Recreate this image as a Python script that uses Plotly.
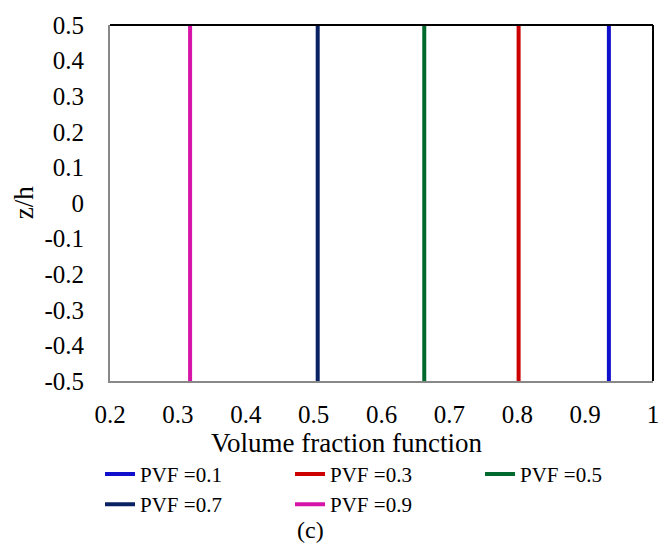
import plotly.graph_objects as go

names = ["PVF =0.1", "PVF =0.3", "PVF =0.5", "PVF =0.7", "PVF =0.9"]
x_values = [0.935, 0.802, 0.663, 0.506, 0.318]
colors = ["#1010CC", "#CC0000", "#006A2E", "#0A2263", "#D614A8"]
z_vals = [-0.5, 0.5]
x_ticks = [0.2, 0.3, 0.4, 0.5, 0.6, 0.7, 0.8, 0.9, 1.0]
x_tick_text = ["0.2", "0.3", "0.4", "0.5", "0.6", "0.7", "0.8", "0.9", "1"]
y_ticks = [-0.5, -0.4, -0.3, -0.2, -0.1, 0, 0.1, 0.2, 0.3, 0.4, 0.5]
y_tick_text = ["-0.5", "-0.4", "-0.3", "-0.2", "-0.1", "0", "0.1", "0.2", "0.3", "0.4", "0.5"]

fig = go.Figure()
for n, xv, c in zip(names, x_values, colors):
    fig.add_trace(go.Scatter(x=[xv, xv], y=z_vals, mode="lines", name=n,
                             line=dict(color=c, width=4)))

font = "Liberation Serif"
fig.update_layout(
    width=671, height=546,
    margin=dict(l=110, r=17, t=14, b=165),
    paper_bgcolor="white", plot_bgcolor="white",
    font=dict(family=font, size=25, color="black"),
    xaxis=dict(range=[0.2, 1.0], tickvals=x_ticks, ticktext=x_tick_text,
               showgrid=False, zeroline=False, showline=True, linecolor="#888888",
               linewidth=2, ticks="outside", ticklen=10, tickcolor="rgba(0,0,0,0)",
               tickfont=dict(family=font, size=25)),
    yaxis=dict(range=[-0.5, 0.5], tickvals=y_ticks, ticktext=y_tick_text,
               showgrid=False, zeroline=False, showline=True, linecolor="#888888",
               linewidth=2, ticks="outside", ticklen=19, tickcolor="rgba(0,0,0,0)",
               tickfont=dict(family=font, size=25)),
    legend=dict(orientation="h", xref="paper", x=(100 - 110) / 544,
                yref="paper", y=-(456 - 381) / 367, xanchor="left", yanchor="top",
                entrywidth=145, entrywidthmode="pixels",
                font=dict(family=font, size=21), tracegroupgap=0),
    showlegend=True,
)
fig.add_shape(type="line", xref="x domain", yref="y domain", x0=0, x1=1, y0=1, y1=1,
              line=dict(color="black", width=2))
fig.add_shape(type="line", xref="x domain", yref="y domain", x0=1, x1=1, y0=0, y1=1,
              line=dict(color="black", width=2))
fig.add_annotation(text="Volume fraction function", xref="paper", yref="paper",
                   x=(347 - 110) / 544, y=-(445 - 381) / 367, showarrow=False,
                   font=dict(family=font, size=27), yanchor="middle", xanchor="center")
fig.add_annotation(text="z/h", xref="paper", yref="paper", textangle=-90,
                   x=(24 - 110) / 544, y=0.5, showarrow=False,
                   font=dict(family=font, size=27), yanchor="middle", xanchor="center")
fig.add_annotation(text="(c)", xref="paper", yref="paper", x=(311 - 110) / 544,
                   y=-(535 - 381) / 367, showarrow=False,
                   font=dict(family=font, size=24), yanchor="middle", xanchor="center")

fig.write_html("out.html")
